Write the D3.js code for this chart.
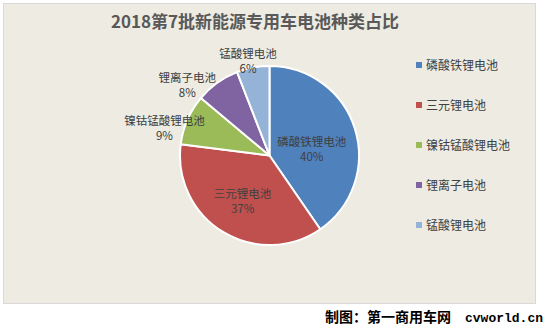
<!DOCTYPE html>
<html><head><meta charset="utf-8">
<script src="https://cdn.jsdelivr.net/npm/d3@7"></script>
<style>
html,body{margin:0;padding:0;background:#fff;}
svg{display:block;font-family:"Noto Sans CJK SC","Noto Sans",sans-serif;}
</style></head>
<body><svg id="c" width="552" height="332"></svg>
<script>
const title = "2018第7批新能源专用车电池种类占比";
const categories = ["磷酸铁锂电池","三元锂电池","镍钴锰酸锂电池","锂离子电池","锰酸锂电池"];
const values = [40.4, 36.6, 9.1, 8.0, 5.9];
const colors = ["#4F81BD","#C0504D","#9BBB59","#8064A2","#95B3D7"];
const footer = "制图：第一商用车网";
const footerSite = "cvworld.cn";

const svg = d3.select("#c");
svg.append("rect").attr("x",3.5).attr("y",3.5).attr("width",532).attr("height",300)
  .attr("fill","#EDEBE2").attr("stroke","#D9D9D9");

svg.append("text").attr("x",255).attr("y",28).attr("text-anchor","middle")
  .attr("font-size",17).attr("font-weight","bold").attr("fill","#595959").text(title);

const cx = 269.5, cy = 155.5, r = 89.5;
const total = d3.sum(values);
const data = categories.map((c,i)=>({cat:c,val:values[i],color:colors[i]}));
const pie = d3.pie().value(d=>d.val).sort(null);
const arcs = pie(data);
const arc = d3.arc().innerRadius(0).outerRadius(r);
const g = svg.append("g").attr("transform",`translate(${cx},${cy})`);
g.selectAll("path").data(arcs).join("path").attr("d",arc)
  .attr("fill",d=>d.data.color).attr("stroke","#fff").attr("stroke-width",2).attr("stroke-linejoin","round");

// label placement: radius factor along mid-angle + nudge (layout only)
const labelRadius = [0.6, 0.6, 1.0, 1.0, 1.0];
const labelNudge = [[-9,10],[1,0],[-23,9],[-30,3],[-5,-6]];
const fmt = v => Math.round(v/total*100)+"%";
arcs.forEach((a,i)=>{
  const mid = (a.startAngle+a.endAngle)/2;
  const rr = r*labelRadius[i];
  const px = Math.sin(mid)*rr + labelNudge[i][0];
  const py = -Math.cos(mid)*rr + labelNudge[i][1];
  const t = g.append("text").attr("text-anchor","middle").attr("font-size",11.5).attr("fill","#404040");
  t.append("tspan").attr("x",px).attr("y",py-3.5).text(a.data.cat);
  t.append("tspan").attr("x",px).attr("y",py+11.5).text(fmt(a.data.val));
});

// legend
const lg = svg.append("g");
const ly = d3.scalePoint().domain(categories).range([65,225]);
categories.forEach((c,i)=>{
  lg.append("rect").attr("x",416).attr("y",ly(c)-3).attr("width",6).attr("height",6).attr("fill",colors[i]);
  lg.append("text").attr("x",426).attr("y",ly(c)+4.5).attr("font-size",12).attr("fill","#404040").text(c);
});

// footer
svg.append("text").attr("x",325).attr("y",322).attr("font-size",14).attr("font-weight","bold")
  .attr("fill","#000").text(footer);
svg.append("text").attr("x",465).attr("y",322).attr("font-size",13).attr("font-weight","bold")
  .attr("font-family","'Liberation Mono',monospace").attr("fill","#000").text(footerSite);
</script></body></html>
